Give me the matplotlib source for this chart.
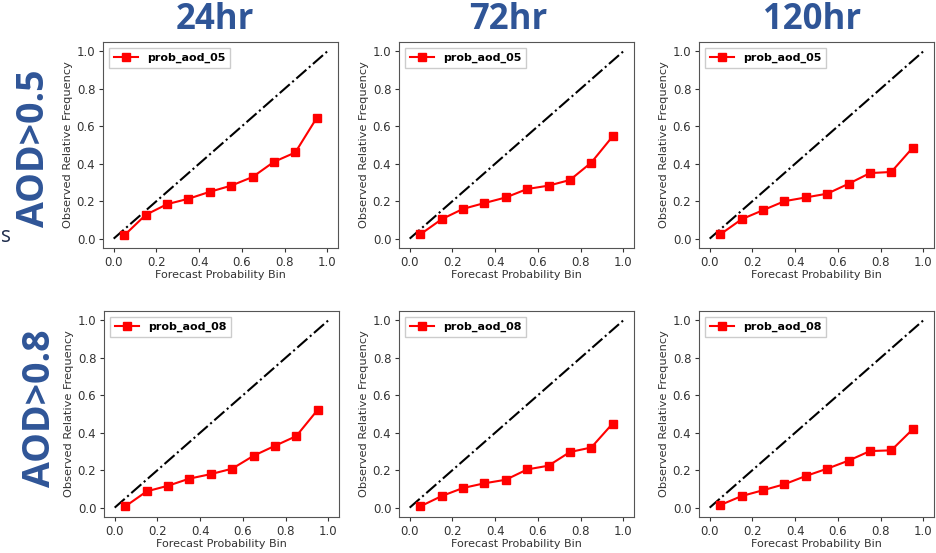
import matplotlib
matplotlib.use("Agg")
import matplotlib.pyplot as plt
import numpy as np

# ---- data ----
bins = [0.05, 0.15, 0.25, 0.35, 0.45, 0.55, 0.65, 0.75, 0.85, 0.95]
col_titles = ["24hr", "72hr", "120hr"]
row_titles = ["AOD>0.5", "AOD>0.8"]
series_names = ["prob_aod_05", "prob_aod_08"]

aod05_24 = [0.018, 0.127, 0.184, 0.213, 0.250, 0.283, 0.329, 0.410, 0.460, 0.644]
aod05_72 = [0.023, 0.104, 0.159, 0.190, 0.220, 0.265, 0.283, 0.313, 0.406, 0.546]
aod05_120 = [0.023, 0.104, 0.152, 0.200, 0.220, 0.240, 0.293, 0.350, 0.356, 0.485]
aod08_24 = [0.007, 0.087, 0.117, 0.155, 0.179, 0.208, 0.277, 0.330, 0.382, 0.522]
aod08_72 = [0.007, 0.062, 0.105, 0.130, 0.149, 0.204, 0.224, 0.297, 0.321, 0.449]
aod08_120 = [0.014, 0.062, 0.093, 0.125, 0.169, 0.208, 0.251, 0.302, 0.306, 0.418]

values = [[aod05_24, aod05_72, aod05_120],
          [aod08_24, aod08_72, aod08_120]]

W, H = 937, 553
fig = plt.figure(figsize=(W / 100, H / 100), dpi=100)
fig.patch.set_facecolor("white")

BLUE = "#2F5597"
# axes boxes in pixels: (left, top, right, bottom)
boxes = [
    [(103, 42, 338, 248), (399, 42, 634, 248), (699, 42, 934, 248)],
    [(104, 311, 339, 517), (399, 311, 634, 517), (699, 311, 934, 517)],
]

for r in range(2):
    for c in range(3):
        l, t, rr, b = boxes[r][c]
        ax = fig.add_axes([l / W, 1 - b / H, (rr - l) / W, (b - t) / H])
        ax.plot([0, 1], [0, 1], color="black", linestyle="-.", linewidth=1.5)
        ax.plot(bins, values[r][c], color="red", marker="s", markersize=5.5,
                linewidth=1.5, label=series_names[r])
        ax.set_xticks([0.0, 0.2, 0.4, 0.6, 0.8, 1.0])
        ax.set_yticks([0.0, 0.2, 0.4, 0.6, 0.8, 1.0])
        ax.tick_params(labelsize=8.5, colors="#333333", length=3, pad=2.5)
        ax.set_xlabel("Forecast Probability Bin", fontsize=8, color="#333333", labelpad=1)
        ax.set_ylabel("Observed Relative Frequency", fontsize=8.2, color="#333333", labelpad=3)
        for s in ax.spines.values():
            s.set_color("#555555")
        ax.legend(loc="upper left", prop={"weight": "bold", "size": 8},
                  fancybox=False, framealpha=1, edgecolor="#cccccc",
                  handlelength=2.2, borderpad=0.45)

# column titles
for x, txt in zip([215, 508, 812], col_titles):
    fig.text(x / W, 1 - 20 / H, txt, ha="center", va="center", fontsize=25,
             fontweight="bold", color=BLUE, family=["Open Sans", "DejaVu Sans"])

# row titles
for y, x, txt in zip([148, 408], [34, 40], row_titles):
    fig.text(x / W, 1 - y / H, txt, ha="center", va="center", fontsize=27,
             fontweight="bold", color=BLUE, rotation=90,
             family=["Open Sans", "DejaVu Sans"])

# small text fragment at the left edge
fig.text(1 / W, 1 - 237 / H, "s", ha="left", va="center", fontsize=15,
         color="#1F2D4D", family=["Open Sans", "DejaVu Sans"])

fig.savefig("out.png", dpi=100)
